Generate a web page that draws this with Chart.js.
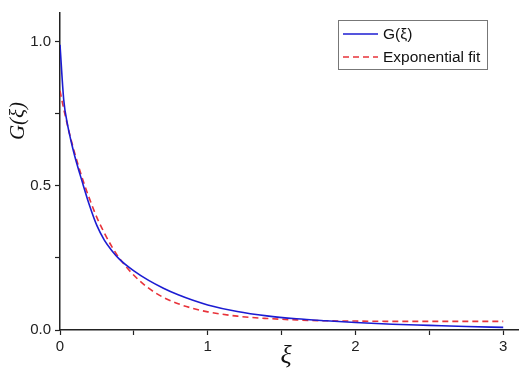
<!DOCTYPE html>
<html>
<head>
<meta charset="utf-8">
<script src="https://cdn.jsdelivr.net/npm/chart.js@4.4.1/dist/chart.umd.min.js"></script>
<style>
  html, body { margin: 0; padding: 0; background: #fff; }
</style>
</head>
<body>
<canvas id="myChart" width="520" height="371"></canvas>
<script>
// values
const xi = [0, 0.025, 0.05, 0.075, 0.1, 0.15, 0.2, 0.25, 0.3, 0.35, 0.4, 0.5, 0.6, 0.7, 0.8, 0.9, 1.0, 1.2, 1.4, 1.6, 1.8, 2.0, 2.25, 2.5, 2.75, 3.0];
const gValues = [0.99, 0.80, 0.715, 0.655, 0.603, 0.515, 0.432, 0.362, 0.312, 0.276, 0.247, 0.205, 0.172, 0.145, 0.122, 0.103, 0.087, 0.064, 0.049, 0.039, 0.032, 0.026, 0.020, 0.016, 0.012, 0.009];
const fitValues = [0.83, 0.768, 0.712, 0.66, 0.613, 0.528, 0.455, 0.39, 0.337, 0.29, 0.25, 0.19, 0.145, 0.113, 0.091, 0.075, 0.063, 0.048, 0.04, 0.035, 0.032, 0.031, 0.030, 0.030, 0.030, 0.030];
const seriesNames = ['G(\u03BE)', 'Exponential fit'];
const xMajor = [0, 1, 2, 3];
const xMinor = [0.5, 1.5, 2.5];
const yMajor = [0, 0.5, 1.0];
const yMinor = [0.25, 0.75];

const axisColor = '#222';
const labelFont = { family: '"Liberation Sans", Arial, sans-serif', size: 15 };

const toPoints = (ys) => ys.map((y, i) => ({ x: xi[i], y: y }));

const extras = {
  id: 'extras',
  afterDraw(chart) {
    const ctx = chart.ctx;
    ctx.save();
    ctx.fillStyle = '#111';
    // axis titles
    ctx.font = 'italic 21px "Liberation Serif", serif';
    ctx.textAlign = 'center';
    ctx.textBaseline = 'middle';
    ctx.save();
    ctx.translate(18, 121);
    ctx.rotate(-Math.PI / 2);
    ctx.fillText('G(\u03BE)', 0, 0);
    ctx.restore();
    ctx.font = 'italic 26px "Liberation Serif", serif';
    ctx.fillText('\u03BE', 286, 356);

    // legend box
    ctx.strokeStyle = '#777';
    ctx.lineWidth = 1;
    ctx.strokeRect(338.5, 20.5, 149, 49);
    ctx.font = '15.5px "Liberation Sans", Arial, sans-serif';
    ctx.textAlign = 'left';
    chart.data.datasets.forEach((ds, i) => {
      const y = 34 + i * 23;
      ctx.save();
      ctx.strokeStyle = ds.borderColor;
      ctx.lineWidth = ds.borderWidth;
      ctx.setLineDash(ds.borderDash || []);
      ctx.beginPath();
      ctx.moveTo(343, y);
      ctx.lineTo(378, y);
      ctx.stroke();
      ctx.restore();
      ctx.fillStyle = '#111';
      ctx.fillText(ds.label, 383, y + 1);
    });
    ctx.restore();
  }
};

const ctx = document.getElementById('myChart').getContext('2d');
const myChart = new Chart(ctx, {
  type: 'line',
  data: {
    datasets: [
      {
        label: seriesNames[0],
        data: toPoints(gValues),
        borderColor: '#1c1cd2',
        borderWidth: 1.6,
        pointRadius: 0,
        cubicInterpolationMode: 'monotone',
        fill: false
      },
      {
        label: seriesNames[1],
        data: toPoints(fitValues),
        borderColor: '#e8333a',
        borderWidth: 1.6,
        borderDash: [6, 4],
        pointRadius: 0,
        cubicInterpolationMode: 'monotone',
        fill: false
      }
    ]
  },
  options: {
    responsive: false,
    animation: false,
    devicePixelRatio: 1,
    layout: { padding: { top: 1, right: 2, left: 0, bottom: 0 } },
    plugins: { legend: { display: false }, tooltip: { enabled: false } },
    scales: {
      x: {
        type: 'linear',
        min: 0,
        max: 3.1,
        afterBuildTicks: (s) => { s.ticks = xMajor.concat(xMinor).sort((a, b) => a - b).map(v => ({ value: v })); },
        afterFit: (s) => { s.height = 41; },
        ticks: {
          color: axisColor,
          font: labelFont,
          padding: 3,
          maxRotation: 0,
          autoSkip: false,
          callback: (v) => xMajor.includes(v) ? String(v) : ''
        },
        grid: { drawOnChartArea: false, tickLength: 5, color: axisColor, tickWidth: 1.2 },
        border: { color: axisColor, width: 1.5 }
      },
      y: {
        type: 'linear',
        min: 0,
        max: 1.1,
        afterBuildTicks: (s) => { s.ticks = yMajor.concat(yMinor).sort((a, b) => a - b).map(v => ({ value: v })); },
        afterFit: (s) => { s.width = 60; },
        ticks: {
          color: axisColor,
          font: labelFont,
          padding: 4,
          autoSkip: false,
          callback: (v) => yMajor.includes(v) ? v.toFixed(1) : ''
        },
        grid: { drawOnChartArea: false, tickLength: 5, color: axisColor, tickWidth: 1.2 },
        border: { color: axisColor, width: 1.5 }
      }
    }
  },
  plugins: [extras]
});
</script>
</body>
</html>
